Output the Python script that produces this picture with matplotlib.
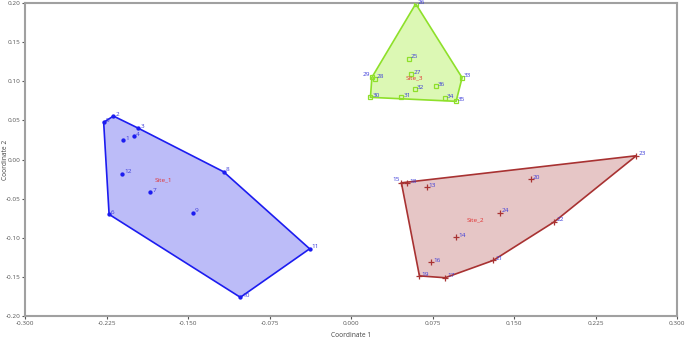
import numpy as np
import matplotlib
matplotlib.use("Agg")
import matplotlib.pyplot as plt

# ---- data ----
site1_ids = [1, 2, 3, 4, 5, 6, 7, 8, 9, 10, 11, 12]
site1_x = [-0.2103, -0.219, -0.196, -0.2005, -0.228, -0.223, -0.185, -0.1175, -0.146, -0.1021, -0.0383, -0.2112]
site1_y = [0.0245, 0.0556, 0.040, 0.030, 0.0476, -0.070, -0.042, -0.0156, -0.068, -0.176, -0.114, -0.018]

site2_ids = [13, 14, 15, 16, 17, 18, 19, 20, 21, 22, 23, 24]
site2_x = [0.0696, 0.0966, 0.0462, 0.0736, 0.0865, 0.0518, 0.0628, 0.1654, 0.1307, 0.187, 0.2625, 0.1366]
site2_y = [-0.0356, -0.0987, -0.0297, -0.1315, -0.151, -0.0305, -0.1486, -0.0253, -0.1289, -0.0795, 0.0049, -0.068]

site3_ids = [25, 26, 27, 28, 29, 30, 31, 32, 33, 34, 35, 36]
site3_x = [0.053, 0.0594, 0.0555, 0.0217, 0.019, 0.0177, 0.0462, 0.0588, 0.1021, 0.0862, 0.0966, 0.0779]
site3_y = [0.129, 0.199, 0.109, 0.1033, 0.105, 0.0795, 0.0795, 0.0898, 0.1046, 0.0786, 0.0744, 0.094]

group_names = ["Site_1", "Site_2", "Site_3"]
x_ticks = [-0.300, -0.225, -0.150, -0.075, 0.000, 0.075, 0.150, 0.225, 0.300]
y_ticks = [-0.20, -0.15, -0.10, -0.05, 0.00, 0.05, 0.10, 0.15, 0.20]
left_label_ids = [15, 29]


def convex_hull(pts):
    pts = sorted(set(map(tuple, pts)))
    def cross(o, a, b):
        return (a[0]-o[0])*(b[1]-o[1]) - (a[1]-o[1])*(b[0]-o[0])
    lower, upper = [], []
    for p in pts:
        while len(lower) >= 2 and cross(lower[-2], lower[-1], p) <= 0:
            lower.pop()
        lower.append(p)
    for p in reversed(pts):
        while len(upper) >= 2 and cross(upper[-2], upper[-1], p) <= 0:
            upper.pop()
        upper.append(p)
    return np.array(lower[:-1] + upper[:-1])


plt.rcParams['font.family'] = ['Open Sans', 'DejaVu Sans']
fig = plt.figure(figsize=(6.85, 3.37), dpi=100)
ax = fig.add_axes([0.0372, 0.062, 0.9511, 0.929])

styles = [
    dict(line="#1c1cf0", fill="#bcbcf8", marker="o", mfc="#1c1cf0", ms=2.2),
    dict(line="#a83232", fill="#e6c6c6", marker="+", mfc="#a83232", ms=4.5),
    dict(line="#8ee02a", fill="#dcf8b4", marker="s", mfc="none", ms=3.2),
]
groups = [(site1_ids, site1_x, site1_y), (site2_ids, site2_x, site2_y), (site3_ids, site3_x, site3_y)]

for (ids, xs, ys), st, name in zip(groups, styles, group_names):
    pts = np.column_stack([xs, ys])
    hull = convex_hull(pts)
    poly = plt.Polygon(hull, closed=True, facecolor=st["fill"], edgecolor=st["line"], lw=1.2, zorder=1)
    ax.add_patch(poly)
    ax.plot(xs, ys, linestyle="none", marker=st["marker"], color=st["line"],
            mfc=st["mfc"], mec=st["line"], ms=st["ms"], mew=0.9, zorder=3)
    for i, x, y in zip(ids, xs, ys):
        if i in left_label_ids:
            ax.annotate(str(i), (x, y), xytext=(-1.5, 0.5), textcoords="offset points",
                        ha="right", va="bottom", fontsize=4.6, color="#3a3ad8", zorder=4)
        else:
            ax.annotate(str(i), (x, y), xytext=(1.5, -0.5), textcoords="offset points",
                        ha="left", va="bottom", fontsize=4.6, color="#3a3ad8", zorder=4)
    ax.text(np.mean(xs), np.mean(ys), name, ha="center", va="center",
            fontsize=4.6, color="#e03030", zorder=4)

ax.set_xlim(-0.3, 0.3)
ax.set_ylim(-0.2, 0.2)
ax.set_xticks(x_ticks)
ax.set_yticks(y_ticks)
ax.set_xticklabels([f"{v:.3f}" for v in x_ticks])
ax.set_yticklabels([f"{v:.2f}" for v in y_ticks])
ax.tick_params(labelsize=4.6, colors="#555555", length=2.5, width=0.8, pad=1)
for sp in ax.spines.values():
    sp.set_color("#a0a0a0")
    sp.set_linewidth(1.5)
ax.set_xlabel("Coordinate 1", fontsize=4.8, color="#444444", labelpad=4)
ax.set_ylabel("Coordinate 2", fontsize=4.8, color="#444444")
ax.yaxis.set_label_coords(-0.026, 0.5)

fig.savefig("out.png", dpi=100)
